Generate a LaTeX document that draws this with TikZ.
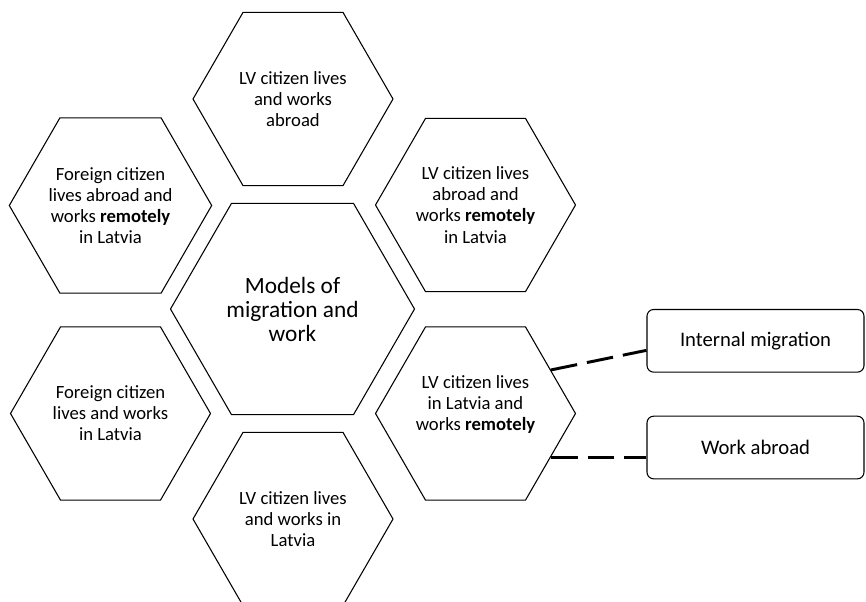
\documentclass[tikz,border=0pt]{standalone}
\usepackage{fontspec}
\setmainfont{Carlito}
\usetikzlibrary{shapes.geometric}

\tikzset{
  hexa/.style={regular polygon, regular polygon sides=6, draw, line width=0.8pt,
    minimum size=150pt, inner sep=0pt, align=center,
    font=\fontsize{14}{15.8}\selectfont},
  bighexa/.style={hexa, minimum size=183pt, font=\fontsize{17.5}{18}\selectfont},
  kind/.style={draw, rounded corners=5pt, line width=0.8pt, minimum width=162.75pt,
    minimum height=47pt, font=\fontsize{15.5}{16}\selectfont},
  link/.style={line width=2.2pt, dash pattern=on 20pt off 7.5pt}
}

\begin{document}
\begin{tikzpicture}[x=0.75pt, y=-0.75pt]

\useasboundingbox (0, 0) rectangle (866, 601);
\clip (0, 0) rectangle (866, 601);

% the ring of hexagons
\node[bighexa] (models) at (292.5, 309) {Models of\\migration and\\work};

\node[hexa] (abroad) at (293, 99) {LV citizen lives\\and works\\abroad};
\node[hexa] (home) at (293, 519) {LV citizen lives\\and works in\\Latvia};
\node[hexa] (forremote) at (110.5, 205.5) {Foreign citizen\\lives abroad and\\works \textbf{remotely}\\in Latvia};
\node[hexa] (forlocal) at (110.5, 413.5) {Foreign citizen\\lives and works\\in Latvia};
\node[hexa] (lvremote) at (475.5, 205) {LV citizen lives\\abroad and\\works \textbf{remotely}\\in Latvia};
\node[hexa] (lvlocal) at (475.5, 413.5) {LV citizen lives\\in Latvia and\\works \textbf{remotely}\\~};

% the two cases of remote work
\node[kind] (intmig) at (755.5, 340.8) {Internal migration};
\node[kind] (workab) at (755.5, 447.5) {Work abroad};

\draw[link] (lvlocal.30) -- (intmig.185);
\draw[link] (lvlocal.-30) -- (lvlocal.-30 -| workab.west);

\end{tikzpicture}
\end{document}
